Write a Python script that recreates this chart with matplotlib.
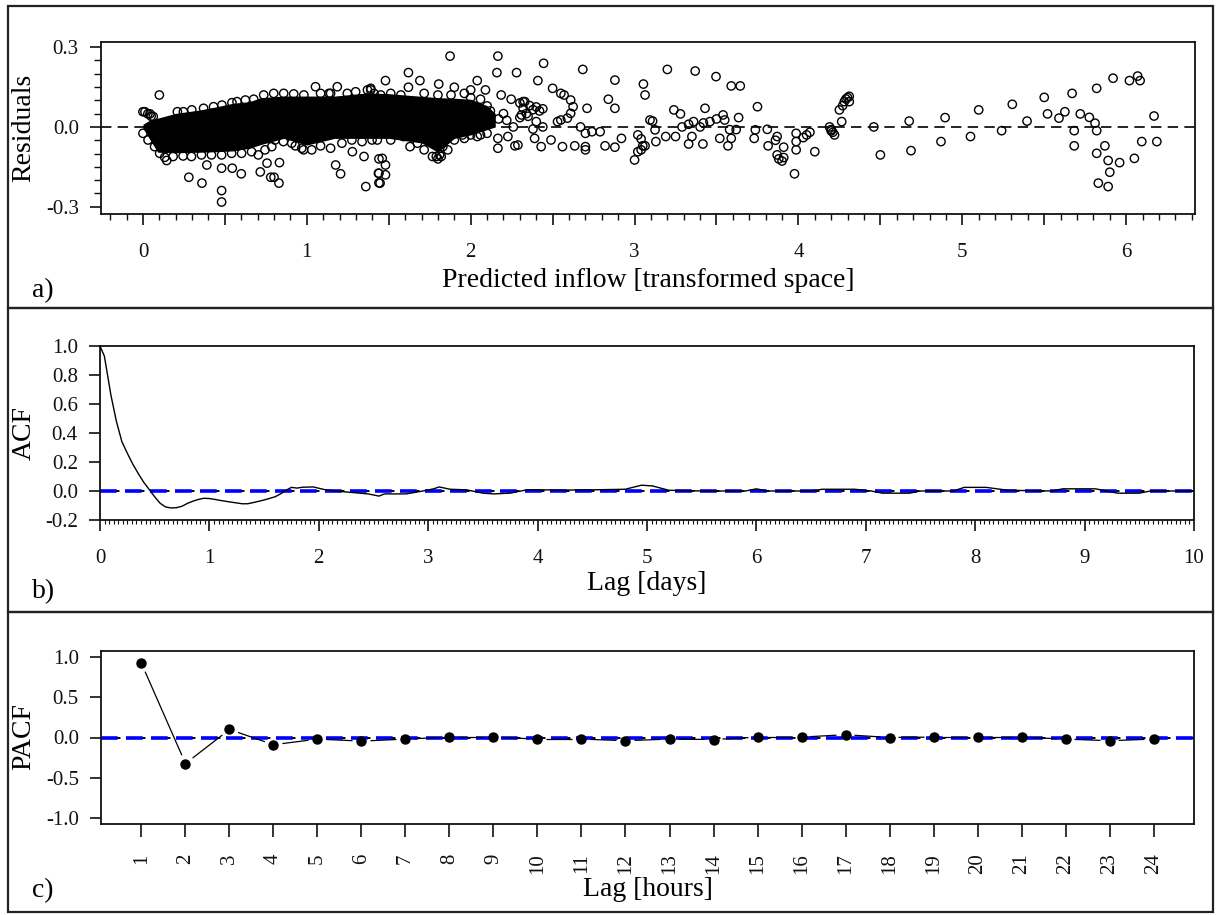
import numpy as np
import matplotlib
matplotlib.use("Agg")
import matplotlib.pyplot as plt
from matplotlib.patches import Rectangle
from matplotlib.ticker import MultipleLocator
from matplotlib.collections import LineCollection

plt.rcParams['font.family'] = ['Liberation Serif', 'DejaVu Serif']
plt.rcParams['lines.scale_dashes'] = False

# ---------------- Panel a: residuals vs predicted inflow ----------------
# envelope of the dense (solid black) cloud of residuals
cloud_x  = [0.0, 0.04, 0.09, 0.2, 0.35, 0.45, 0.55, 0.65, 0.72, 0.86, 1.0, 1.17, 1.37, 1.5, 1.7, 1.8, 1.9, 2.0, 2.1, 2.15]
cloud_hi = [0.01, 0.025, 0.033, 0.051, 0.064, 0.076, 0.089, 0.095, 0.11, 0.116, 0.116, 0.116, 0.128, 0.125, 0.115, 0.11, 0.108, 0.104, 0.08, 0.05]
cloud_lo = [-0.005, -0.045, -0.095, -0.097, -0.095, -0.093, -0.09, -0.08, -0.066, -0.043, -0.068, -0.043, -0.043, -0.043, -0.06, -0.095, -0.043, -0.03, -0.01, 0.0]

# individually visible residual points (edge circles of the cloud and outliers)
pred_x = [
    # cloud upper edge
    0.012, 0.043, 0.063, 0.247, 0.298, 0.37, 0.431, 0.482, 0.543, 0.574, 0.625, 0.676, 0.737, 0.798,
    0.859, 0.92, 0.982, 1.084, 1.145, 1.37, 1.41,
    1.39, 1.451, 1.512, 1.574, 1.716, 1.8, 1.88, 1.961, 2.0, 2.06, 2.1, 2.12,
    # cloud lower edge
    0.0, 0.031, 0.071, 0.102, 0.133, 0.184, 0.245, 0.296, 0.357, 0.418, 0.48, 0.541, 0.602, 0.663,
    0.704, 0.745, 0.786, 0.806, 0.857, 0.908, 0.969, 1.03, 1.214, 1.275, 1.337, 1.398,
    1.43, 1.512, 1.59, 1.675, 1.716, 1.767, 1.82, 1.86, 1.90, 1.961, 2.04, 2.1,
    # outliers 0 - 1.5
    0.10, 0.0, 0.03, 0.05, 0.21, 0.145, 0.28, 0.36, 0.39, 0.48, 0.48, 0.48, 0.545, 0.60, 0.716, 0.757,
    0.78, 0.80, 0.83, 0.833, 0.93, 0.98, 1.053, 1.186, 1.135, 1.247, 1.298, 1.176, 1.206, 1.349, 1.36,
    1.437, 1.44, 1.44, 1.39, 1.084, 1.145, 1.278,
    1.46, 1.48, 1.44, 1.48, 1.447, 1.63, 1.79, 1.80, 1.81, 1.83, 1.95, 2.0, 2.06,
    # 1.5 - 3.1
    1.874, 2.166, 1.62, 1.48, 1.69, 1.805, 1.62, 1.90, 2.0, 2.04, 2.09, 2.16, 2.28, 2.445, 2.41, 2.684,
    2.50, 2.55, 2.57, 2.61, 2.625, 2.61, 2.59, 2.55, 2.53, 2.71, 2.186, 2.247, 2.32, 2.88, 2.84, 2.88,
    3.054, 3.064, 2.67, 2.70, 2.74, 2.79, 2.70, 2.70, 2.635, 2.56, 2.49, 2.43, 2.39, 2.38, 2.288, 2.27,
    2.166, 2.166, 2.227, 2.82, 2.88, 2.92, 3.0, 3.02, 3.064, 3.02, 3.094,
    2.17, 2.22, 2.26, 2.30, 2.35, 2.40, 2.44, 2.2,
    2.30, 2.32, 2.34, 2.36, 2.38, 2.40, 2.42, 2.44, 2.33, 2.31,
    # 3.1 - 4.7
    3.20, 3.37, 3.497, 3.59, 3.645, 3.24, 3.28, 3.43, 3.75, 3.11, 3.54, 3.55, 3.635,
    3.04, 3.05, 3.04, 3.13, 3.125, 3.19, 3.25, 3.29, 3.33, 3.36, 3.40, 3.42, 3.46, 3.50,
    3.33, 3.417, 3.35, 3.52, 3.57, 3.59, 3.58, 3.62, 3.73, 3.737, 3.81, 3.815, 3.87, 3.86, 3.91,
    3.87, 3.88, 3.90, 3.91, 3.976, 3.986, 3.986, 3.986, 4.03, 4.05, 4.07, 4.10,
    4.19, 4.20, 4.21, 4.22, 4.20, 4.264, 4.25, 4.27, 4.28, 4.29, 4.31, 4.31, 4.30,
    4.46, 4.50, 4.676, 4.687,
    # 4.7 - 6.2
    4.895, 4.87, 5.05, 5.10, 5.24, 5.305, 5.395, 5.50, 5.52, 5.59, 5.626, 5.67, 5.72, 5.683, 5.683,
    5.775, 5.81, 5.82, 5.82, 5.92, 6.02, 6.07, 6.085, 5.82, 5.87, 5.89, 5.96, 5.90, 5.83, 5.89,
    6.05, 6.095, 6.187, 6.17,
]
resid_y = [
    # cloud upper edge
    0.057, 0.049, 0.039, 0.057, 0.064, 0.07, 0.076, 0.082, 0.091, 0.095, 0.101, 0.104, 0.12, 0.126,
    0.126, 0.124, 0.12, 0.126, 0.126, 0.139, 0.126,
    0.139, 0.12, 0.126, 0.12, 0.126, 0.12, 0.12, 0.126, 0.11, 0.104, 0.079, 0.06,
    # cloud lower edge
    -0.024, -0.049, -0.074, -0.099, -0.114, -0.111, -0.109, -0.111, -0.105, -0.105, -0.105, -0.099, -0.099, -0.093,
    -0.105, -0.086, -0.074, -0.049, -0.055, -0.061, -0.08, -0.086, -0.061, -0.049, -0.055, -0.049,
    -0.049, -0.049, -0.036, -0.061, -0.086, -0.111, -0.111, -0.086, -0.049, -0.043, -0.036, -0.024,
    # outliers 0 - 1.5
    0.12, 0.057, 0.049, 0.04, 0.057, -0.126, -0.189, -0.211, -0.143, -0.155, -0.239, -0.282, -0.155, -0.176, -0.169, -0.136,
    -0.189, -0.189, -0.211, -0.134, -0.071, -0.086, 0.151, 0.151, 0.126, 0.126, 0.132, -0.143, -0.176, -0.111, -0.224,
    -0.174, -0.21, -0.12, 0.145, -0.071, -0.08, -0.093,
    -0.118, -0.143, -0.174, -0.18, -0.211, -0.074, -0.111, -0.12, -0.105, -0.074, -0.03, -0.03, -0.03,
    # 1.5 - 3.1
    0.266, 0.266, 0.204, 0.174, 0.174, 0.161, 0.149, 0.149, 0.139, 0.174, 0.139, 0.204, 0.204, 0.239, 0.174, 0.216,
    0.145, 0.126, 0.12, 0.101, 0.076, 0.051, 0.033, 0.026, 0.02, 0.07, 0.12, 0.104, 0.095, 0.176, 0.104, 0.07,
    0.161, 0.12, 0.0, -0.024, -0.018, -0.018, -0.074, -0.086, -0.071, -0.074, -0.049, -0.074, -0.043, -0.008, -0.068, -0.071,
    -0.08, -0.043, -0.036, -0.071, -0.076, -0.043, -0.124, -0.093, -0.071, -0.03, 0.026,
    0.03, 0.025, 0.0, 0.035, 0.04, 0.02, 0.0, 0.05,
    0.09, 0.07, 0.05, 0.08, 0.065, 0.075, 0.06, 0.068, 0.095, 0.045,
    # 3.1 - 4.7
    0.216, 0.21, 0.189, 0.154, 0.154, 0.064, 0.049, 0.07, 0.076, 0.022, 0.045, 0.026, 0.035,
    -0.045, -0.071, -0.086, -0.055, -0.011, -0.036, -0.036, 0.0, 0.01, 0.02, 0.0, 0.015, 0.02, 0.03,
    -0.064, -0.064, -0.036, -0.043, -0.071, -0.043, -0.01, -0.01, -0.043, -0.011, -0.009, -0.071, -0.036, -0.05, -0.076,
    -0.105, -0.12, -0.128, -0.115, -0.176, -0.024, -0.055, -0.086, -0.04, -0.03, -0.02, -0.093,
    0.0, -0.01, -0.02, -0.03, -0.015, 0.02, 0.064, 0.08, 0.095, 0.105, 0.115, 0.095, 0.11,
    0.0, -0.105, 0.022, -0.089,
    # 4.7 - 6.2
    0.035, -0.055, -0.036, 0.064, -0.014, 0.085, 0.022, 0.111, 0.049, 0.033, 0.057, 0.126, 0.049, -0.014, -0.071,
    0.036, 0.014, -0.014, 0.145, 0.183, 0.174, 0.191, 0.174, -0.099, -0.071, -0.126, -0.134, -0.17, -0.211, -0.224,
    -0.118, -0.055, -0.055, 0.041,
]

# ---------------- Panel b: ACF vs lag in days ----------------
acf_lag = [0.0, 0.04, 0.1, 0.15, 0.2, 0.25, 0.3, 0.35, 0.4, 0.45, 0.5, 0.55, 0.6, 0.65, 0.7, 0.75,
           0.8, 0.85, 0.9, 0.95, 1.0, 1.05, 1.1, 1.2, 1.3, 1.35, 1.4, 1.5, 1.6, 1.65, 1.7, 1.75,
           1.8, 1.85, 1.95, 2.05, 2.15, 2.3, 2.45, 2.55, 2.6, 2.8, 2.95, 3.05, 3.1, 3.2, 3.35,
           3.5, 3.6, 3.75, 3.9, 4.05, 4.2, 4.5, 4.8, 4.95, 5.05, 5.2, 5.5, 5.9, 6.0, 6.1, 6.5,
           6.6, 6.9, 7.05, 7.15, 7.4, 7.5, 7.8, 7.9, 8.1, 8.3, 8.7, 8.8, 9.1, 9.2, 9.3, 9.5, 9.6, 10.0]
acf_val = [1.0, 0.93, 0.66, 0.48, 0.34, 0.26, 0.185, 0.12, 0.06, 0.01, -0.04, -0.085, -0.11, -0.117, -0.115, -0.105,
           -0.085, -0.07, -0.058, -0.05, -0.052, -0.058, -0.065, -0.077, -0.088, -0.088, -0.08, -0.062, -0.04, -0.02, 0.005, 0.025,
           0.02, 0.026, 0.028, 0.01, 0.0, -0.01, -0.02, -0.035, -0.02, -0.02, 0.0, 0.015, 0.028, 0.012, 0.008,
           -0.015, -0.02, -0.015, 0.008, 0.008, 0.006, 0.008, 0.012, 0.04, 0.035, 0.005, 0.0, 0.0, 0.015, 0.0, 0.0,
           0.012, 0.012, 0.0, -0.015, -0.015, 0.0, 0.0, 0.025, 0.025, 0.005, 0.0, 0.015, 0.015, 0.0, -0.015, -0.015, 0.0, 0.0]

# ---------------- Panel c: PACF vs lag in hours ----------------
pacf_lag = list(range(1, 25))
pacf_val = [0.925, -0.325, 0.10, -0.09, -0.02, -0.045, -0.02, 0.005, 0.005, -0.02, -0.02, -0.04,
            -0.02, -0.025, 0.005, 0.005, 0.035, 0.0, 0.005, 0.005, 0.005, -0.02, -0.04, -0.02]

# ---------------- figure ----------------
W, H = 1216, 915
fig = plt.figure(figsize=(W / 100, H / 100), dpi=100)
fig.patch.set_facecolor('white')


def rect(l, t, r, b):
    return [l / W, 1 - b / H, (r - l) / W, (b - t) / H]


# panel frames
for top, bot in [(6, 308), (308, 612), (612, 912)]:
    fig.add_artist(Rectangle((8 / W, 1 - bot / H), (1213 - 8) / W, (bot - top) / H,
                             transform=fig.transFigure, fill=False, lw=1.6, ec='#222222'))

TICK_FS = 15
LAB_FS = 20

axA = fig.add_axes(rect(101, 42, 1195, 214))
axB = fig.add_axes(rect(100, 346, 1194, 520))
axC = fig.add_axes(rect(101, 651, 1194, 824))

for ax in (axA, axB, axC):
    for s in ax.spines.values():
        s.set_linewidth(1.3)
        s.set_color('#111111')
    ax.tick_params(which='major', direction='out', length=8, width=1.2, labelsize=TICK_FS, colors='#111111')
    ax.tick_params(which='minor', direction='out', width=1.0, colors='#111111')
    ax.tick_params(axis='y', pad=8)

# ---- panel a ----
axA.axhline(0, color='black', lw=1.2, dashes=(7.5, 4.5), zorder=1)
axA.fill_between(cloud_x, cloud_lo, cloud_hi, color='black', lw=0, zorder=2)
axA.scatter(pred_x, resid_y, s=36, facecolors='none', edgecolors='black', linewidths=1.0, zorder=3)
axA.set_xlim(-0.256, 6.42)
axA.set_ylim(-0.327, 0.319)
xt = np.arange(0, 6.01, 0.5)
axA.set_xticks(xt)
axA.set_xticklabels([str(int(v)) if v == int(v) else '' for v in xt])
axA.xaxis.set_minor_locator(MultipleLocator(0.1))
axA.tick_params(axis='x', which='minor', length=4)
axA.tick_params(axis='x', which='major', pad=13)
axA.set_yticks([-0.3, 0.0, 0.3])
axA.set_yticklabels(['-0.3', '0.0', '0.3'])
axA.yaxis.set_minor_locator(MultipleLocator(0.05))
axA.tick_params(axis='y', which='minor', length=5)

# ---- panel b ----
axB.axhline(0, color='black', lw=1.4, dashes=(5, 4), zorder=1)
axB.axhline(0, color='#0000ff', lw=2.6, dashes=(12, 6), zorder=2)
axB.plot(acf_lag, acf_val, color='black', lw=1.0, zorder=3)
axB.set_xlim(0, 10)
axB.set_ylim(-0.2, 1.0)
axB.set_xticks(range(0, 11))
axB.xaxis.set_minor_locator(MultipleLocator(1 / 24))
axB.tick_params(axis='x', which='minor', length=3, width=0.8)
axB.tick_params(axis='x', which='major', pad=13)
yb = np.round(np.arange(-0.2, 1.01, 0.2), 1)
axB.set_yticks(yb)
axB.set_yticklabels(['%.1f' % v for v in yb])

# ---- panel c ----
axC.set_xlim(0.08, 24.92)
axC.set_ylim(-1.08, 1.08)
axC.axhline(0, color='black', lw=1.4, dashes=(5, 4), zorder=1)
axC.axhline(0, color='#0000ff', lw=2.6, dashes=(12, 6), zorder=2)
axC.plot(pacf_lag, pacf_val, 'o', color='black', ms=6.5, zorder=4)
# type="b" style connecting lines with gaps around points
pts = axC.transData.transform(np.column_stack([pacf_lag, pacf_val]))
inv = axC.transData.inverted()
gap = 9.0
segs = []
for p0, p1 in zip(pts[:-1], pts[1:]):
    d = p1 - p0
    L = np.hypot(d[0], d[1])
    if L > 2 * gap:
        u = d / L
        segs.append(inv.transform(np.array([p0 + u * gap, p1 - u * gap])))
axC.add_collection(LineCollection(segs, colors='black', linewidths=0.9, zorder=3))
axC.set_xticks(pacf_lag)
axC.set_xticklabels([str(v) for v in pacf_lag], rotation=90)
axC.tick_params(axis='x', which='major', pad=12, length=9)
axC.set_yticks([-1.0, -0.5, 0.0, 0.5, 1.0])
axC.set_yticklabels(['-1.0', '-0.5', '0.0', '0.5', '1.0'])

# axis labels and panel letters
def ftext(x, y, s, **kw):
    fig.text(x / W, 1 - y / H, s, **kw)

ftext(24, 128, 'Residuals', rotation=90, ha='center', va='center', fontsize=LAB_FS)
ftext(24, 433, 'ACF', rotation=90, ha='center', va='center', fontsize=LAB_FS)
ftext(24, 737, 'PACF', rotation=90, ha='center', va='center', fontsize=LAB_FS)

ftext(648, 287, 'Predicted inflow [transformed space]', ha='center', va='baseline', fontsize=LAB_FS)
ftext(647, 590, 'Lag [days]', ha='center', va='baseline', fontsize=LAB_FS)
ftext(648, 896, 'Lag [hours]', ha='center', va='baseline', fontsize=LAB_FS)

ftext(32, 297, 'a)', ha='left', va='baseline', fontsize=LAB_FS)
ftext(32, 598, 'b)', ha='left', va='baseline', fontsize=LAB_FS)
ftext(32, 897, 'c)', ha='left', va='baseline', fontsize=LAB_FS)

fig.savefig('out.png', dpi=100)
